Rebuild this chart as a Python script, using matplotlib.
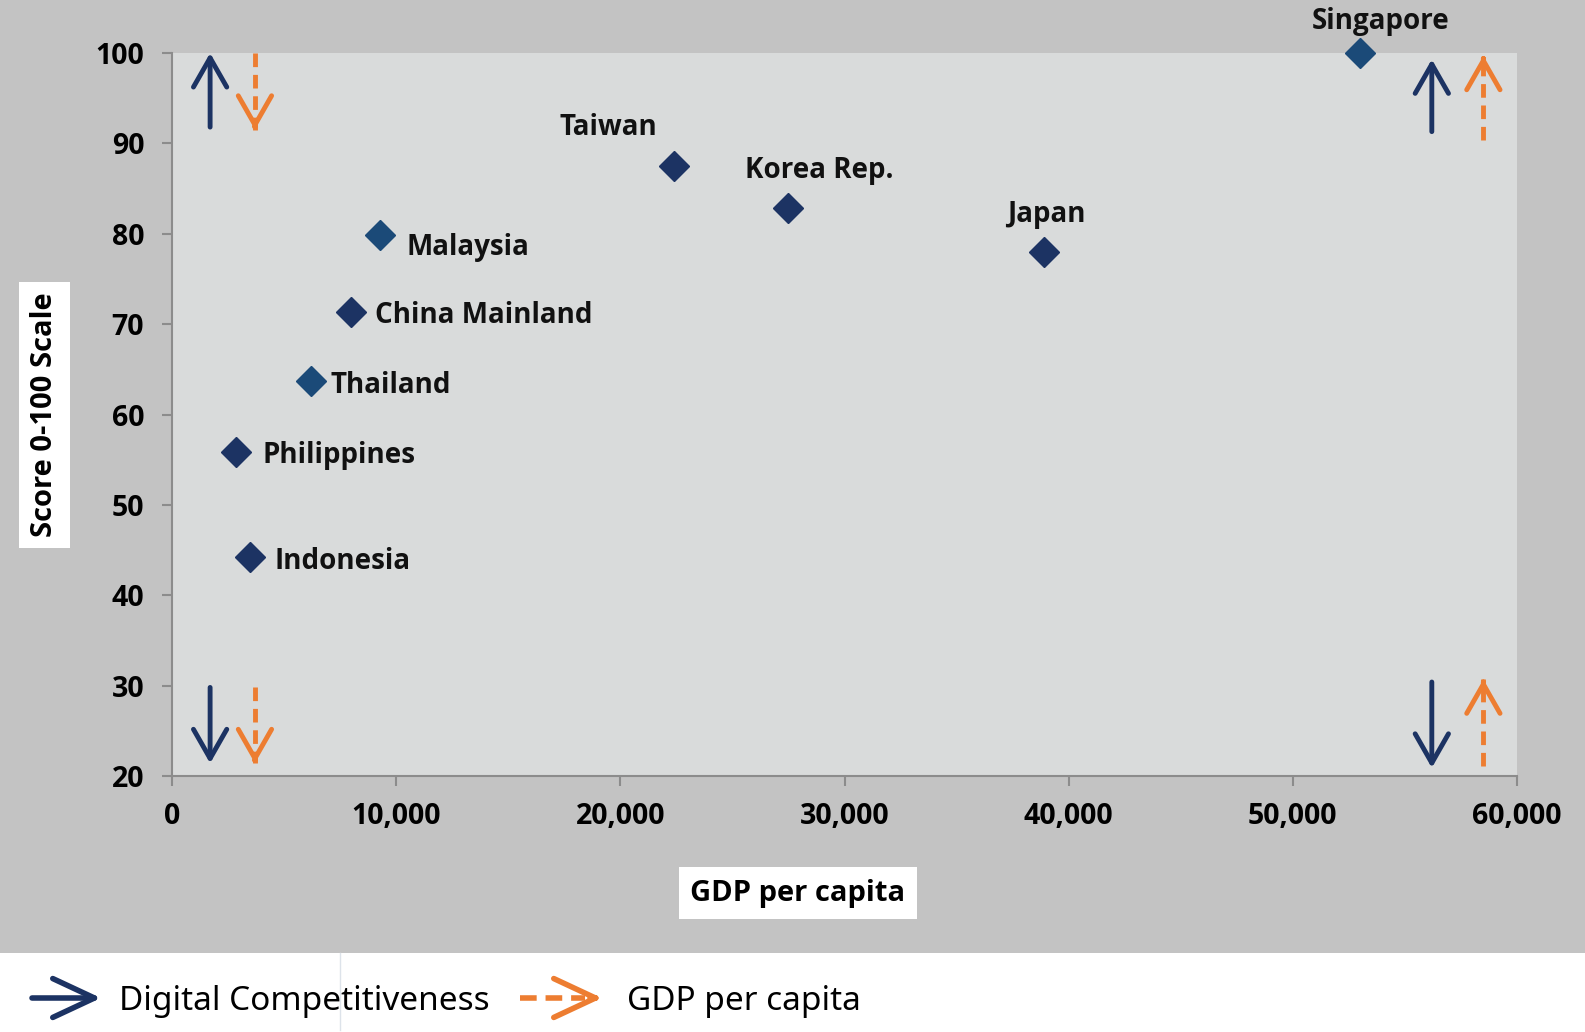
import matplotlib.pyplot as plt
import matplotlib.ticker as ticker

# ── Data ────────────────────────────────────────────────────────────────────
countries = ["Singapore", "Taiwan", "Korea Rep.", "Japan", "Malaysia",
             "China Mainland", "Thailand", "Philippines", "Indonesia"]
gdp_pc = [53000, 22400, 27500, 38900, 9300, 8000, 6200, 2850, 3500]
score = [100.0, 87.5, 82.9, 78.0, 79.9, 71.3, 63.7, 55.8, 44.2]

# quadrant direction indicators (x, start, end)
dc_arrow_x = [1700, 1700, 56200, 56200]
dc_arrow_from = [91.8, 29.8, 91.3, 30.4]
dc_arrow_to = [100.0, 21.4, 99.3, 20.9]
gdp_arrow_x = [3700, 3700, 58500, 58500]
gdp_arrow_from = [100.0, 29.9, 90.4, 21.1]
gdp_arrow_to = [91.5, 21.4, 99.7, 30.7]

x_ticks = [0, 10000, 20000, 30000, 40000, 50000, 60000]
y_ticks = [20, 30, 40, 50, 60, 70, 80, 90, 100]

# ── Styles ──────────────────────────────────────────────────────────────────
NAVY = "#1c3363"
TEAL = "#1b4a78"
ORANGE = "#ed7d31"
OUTER = "#c3c3c3"
INNER = "#d9dbdb"
FONT = ["Open Sans", "DejaVu Sans"]

marker_colors = [TEAL, NAVY, NAVY, NAVY, TEAL, NAVY, TEAL, NAVY, NAVY]
# label offsets (points) and alignment
label_offsets = [(15, 23, "center"), (-47, 28, "center"), (22, 27, "center"),
                 (2, 27, "center"), (19, -9, "left"), (17, -2, "left"),
                 (14, -3, "left"), (19, -2, "left"), (17, -3, "left")]

plt.rcParams["font.family"] = FONT

fig = plt.figure(figsize=(15.85, 10.32), dpi=100)
fig.patch.set_facecolor("white")

W, H = 1585, 1032
# outer gray panel
fig.patches.append(plt.Rectangle((0, 1 - 953 / H), 1, 953 / H,
                                 transform=fig.transFigure,
                                 facecolor=OUTER, edgecolor="none", zorder=-5))
fig.lines.append(plt.Line2D([340 / W, 340 / W], [1 - 1030 / H, 1 - 953 / H],
                            transform=fig.transFigure, color="#dde3ea", lw=1,
                            zorder=-4))

ax = fig.add_axes([172 / W, 1 - 776 / H, (1517 - 172) / W, (776 - 53) / H])
ax.set_facecolor(INNER)

for x, y, c in zip(gdp_pc, score, marker_colors):
    ax.plot(x, y, marker="D", ms=15.5, color=c, mec=c, linestyle="none",
            clip_on=False, zorder=4)

for name, x, y, (dx, dy, ha) in zip(countries, gdp_pc, score, label_offsets):
    ax.annotate(name, (x, y), xytext=(dx, dy), textcoords="offset points",
                ha=ha, va="center", fontsize=20, fontweight="bold",
                color="#111111", annotation_clip=False, zorder=5)

head = "->,head_length=1.05,head_width=0.6"

# solid navy arrows
for x, y0, y1 in zip(dc_arrow_x, dc_arrow_from, dc_arrow_to):
    ax.annotate("", xy=(x, y1), xytext=(x, y0),
                arrowprops=dict(arrowstyle=head, color=NAVY, lw=3.5,
                                mutation_scale=20, shrinkA=0, shrinkB=0),
                annotation_clip=False)

# dashed orange arrows: dashed shaft + solid head
for x, y0, y1 in zip(gdp_arrow_x, gdp_arrow_from, gdp_arrow_to):
    ax.plot([x, x], [y0, y1], color=ORANGE, lw=3.5,
            linestyle=(0, (2.8, 1.6)), solid_capstyle="butt", clip_on=False)
    step = 0.4 if y1 > y0 else -0.4
    ax.annotate("", xy=(x, y1), xytext=(x, y1 - step),
                arrowprops=dict(arrowstyle=head, color=ORANGE, lw=3.5,
                                mutation_scale=20, shrinkA=0, shrinkB=0),
                annotation_clip=False)

ax.set_xlim(0, 60000)
ax.set_ylim(20, 100)
ax.set_xticks(x_ticks)
ax.set_yticks(y_ticks)
ax.xaxis.set_major_formatter(ticker.FuncFormatter(lambda v, p: f"{int(v):,}"))

for s in ["top", "right"]:
    ax.spines[s].set_visible(False)
for s in ["left", "bottom"]:
    ax.spines[s].set_color("#8c8c8c")
    ax.spines[s].set_linewidth(1.5)

ax.tick_params(axis="both", direction="out", length=7, width=1.5,
               color="#8c8c8c", labelsize=20.5)
ax.tick_params(axis="y", pad=13)
ax.tick_params(axis="x", pad=12)
for lab in ax.get_xticklabels() + ax.get_yticklabels():
    lab.set_fontweight("bold")

# axis titles in white boxes
fig.text(798 / W, 1 - 893 / H, "GDP per capita", ha="center", va="center",
         fontsize=21, fontweight="bold",
         bbox=dict(facecolor="white", edgecolor="none", pad=8))
fig.text(44.5 / W, 1 - 415 / H, "Score 0-100 Scale", ha="center", va="center",
         rotation=90, fontsize=21, fontweight="bold",
         bbox=dict(facecolor="white", edgecolor="none", pad=8))

# ── Bottom legend ───────────────────────────────────────────────────────────
ly = 1 - 998 / H
ax.annotate("", xy=(101 / W, ly), xytext=(32 / W, ly),
            xycoords="figure fraction", textcoords="figure fraction",
            arrowprops=dict(arrowstyle="->,head_length=1.5,head_width=0.7",
                            color=NAVY, lw=4, mutation_scale=20,
                            shrinkA=0, shrinkB=0),
            annotation_clip=False)
fig.text(119 / W, 1 - 1001 / H, "Digital Competitiveness", ha="left",
         va="center", fontsize=24, family=["Noto Sans", "DejaVu Sans"])

fig.lines.append(plt.Line2D([520 / W, 585 / W], [ly, ly],
                            transform=fig.transFigure, color=ORANGE, lw=4,
                            linestyle=(0, (3.0, 1.6))))
ax.annotate("", xy=(602 / W, ly), xytext=(590 / W, ly),
            xycoords="figure fraction", textcoords="figure fraction",
            arrowprops=dict(arrowstyle="->,head_length=1.5,head_width=0.7",
                            color=ORANGE, lw=4, mutation_scale=20,
                            shrinkA=0, shrinkB=0),
            annotation_clip=False)
fig.text(627 / W, 1 - 1001 / H, "GDP per capita", ha="left",
         va="center", fontsize=24, family=["Noto Sans", "DejaVu Sans"])

fig.savefig("out.png", dpi=100, facecolor=fig.get_facecolor())
